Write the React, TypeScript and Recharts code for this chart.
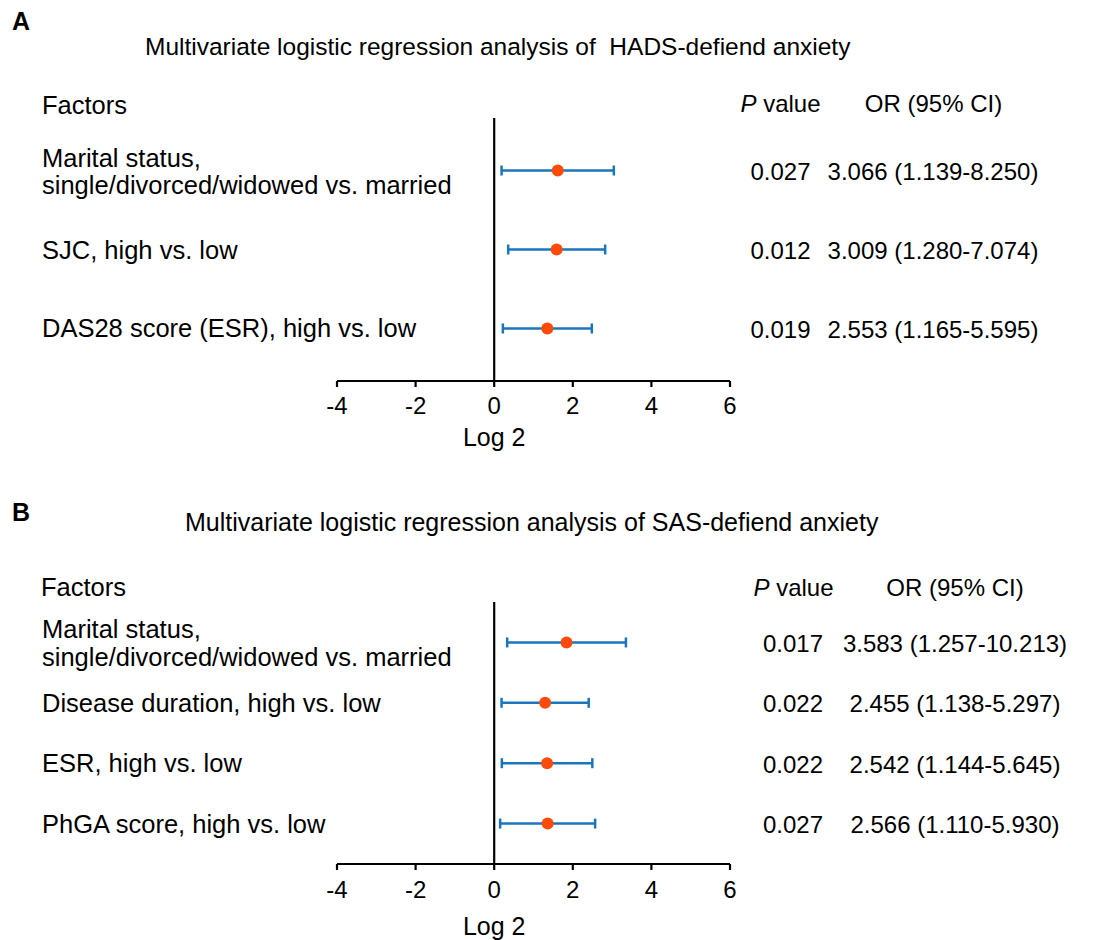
import React from "react";
import { ScatterChart, Scatter, XAxis, YAxis, ErrorBar, ReferenceLine } from "recharts";

const FONT = '"Liberation Sans", Arial, Helvetica, sans-serif';
const BLUE = "#1b75bc";
const ORANGE = "#ff4b0a";

const xTicks = [-4, -2, 0, 2, 4, 6];

// Panel A: HADS-defined anxiety
const factorsA = [
  ["Marital status,", "single/divorced/widowed vs. married"],
  ["SJC, high vs. low"],
  ["DAS28 score (ESR), high vs. low"],
];
const pValuesA = ["0.027", "0.012", "0.019"];
const orTextA = ["3.066 (1.139-8.250)", "3.009 (1.280-7.074)", "2.553 (1.165-5.595)"];
const log2OrA = [1.617, 1.589, 1.352];
const log2LowA = [0.188, 0.356, 0.22];
const log2HighA = [3.044, 2.823, 2.484];

// Panel B: SAS-defined anxiety
const factorsB = [
  ["Marital status,", "single/divorced/widowed vs. married"],
  ["Disease duration, high vs. low"],
  ["ESR, high vs. low"],
  ["PhGA score, high vs. low"],
];
const pValuesB = ["0.017", "0.022", "0.022", "0.027"];
const orTextB = [
  "3.583 (1.257-10.213)",
  "2.455 (1.138-5.297)",
  "2.542 (1.144-5.645)",
  "2.566 (1.110-5.930)",
];
const log2OrB = [1.841, 1.296, 1.346, 1.36];
const log2LowB = [0.33, 0.187, 0.194, 0.151];
const log2HighB = [3.352, 2.405, 2.497, 2.568];

type PanelProps = {
  top: number;
  factors: string[][];
  pValues: string[];
  orText: string[];
  or: number[];
  low: number[];
  high: number[];
  marginTop: number;
  marginBottom: number;
  axisHeight: number;
  labelBaseline: number;
  tickMargin: number;
  pX: number;
  orX: number;
};

function ForestPanel(p: PanelProps) {
  const n = p.factors.length;
  const data = p.or.map((v, i) => ({
    row: i + 1,
    or: v,
    err: [v - p.low[i], p.high[i] - v],
  }));
  const rowTicks = data.map((d) => d.row);

  const RowTick = (props: any) => {
    const { y, payload } = props;
    const i = Math.round(payload.value) - 1;
    const lines = p.factors[i] || [];
    return (
      <g fontFamily={FONT} fill="#000">
        {lines.length > 1 ? (
          <text x={42} fontSize={25.5} fill="#000">
            <tspan x={42} y={y - 13 + 9}>{lines[0]}</tspan>
            <tspan x={42} y={y + 14.7 + 9}>{lines[1]}</tspan>
          </text>
        ) : (
          <text x={42} y={y + 9} fontSize={25.5} fill="#000">
            {lines[0]}
          </text>
        )}
        <text x={p.pX} y={y + 9.5} fontSize={24} textAnchor="middle" fill="#000">
          {p.pValues[i]}
        </text>
        <text x={p.orX} y={y + 9.5} fontSize={24} textAnchor="middle" fill="#000">
          {p.orText[i]}
        </text>
      </g>
    );
  };

  // "Log 2" sits under the zero line (0 is 40% along the -4..6 axis)
  const AxisTitle = (props: any) => {
    const vb = props.viewBox || {};
    const cx = vb.x + vb.width * 0.4;
    return (
      <text
        x={cx}
        y={vb.y + p.labelBaseline}
        textAnchor="middle"
        fontSize={25}
        fontFamily={FONT}
        fill="#000"
      >
        Log 2
      </text>
    );
  };

  return (
    <div style={{ position: "absolute", left: 0, top: p.top }}>
      <ScatterChart
        width={1098}
        height={470}
        margin={{ top: p.marginTop, right: 368, bottom: p.marginBottom, left: 0 }}
      >
        <XAxis
          type="number"
          dataKey="or"
          domain={[-4, 6]}
          ticks={xTicks}
          height={p.axisHeight}
          axisLine={{ stroke: "#000", strokeWidth: 2.2 }}
          tickLine={{ stroke: "#000", strokeWidth: 2.2 }}
          tickSize={6}
          tickMargin={p.tickMargin}
          tick={{ fill: "#000", fontSize: 24, fontFamily: FONT }}
          label={<AxisTitle />}
        />
        <YAxis
          type="number"
          dataKey="row"
          domain={[0.335 - (n - 3) * 0.005, n + 0.665 + (n - 3) * 0.005]}
          reversed
          ticks={rowTicks}
          width={337}
          axisLine={false}
          tickLine={false}
          tick={RowTick}
        />
        <ReferenceLine x={0} stroke="#000" strokeWidth={2.2} />
        <Scatter
          data={data}
          isAnimationActive={false}
          shape={(s: any) => <circle cx={s.cx} cy={s.cy} r={6} fill={ORANGE} />}
        >
          <ErrorBar
            dataKey="err"
            direction="x"
            width={5}
            strokeWidth={2.5}
            stroke={BLUE}
            isAnimationActive={false}
          />
        </Scatter>
      </ScatterChart>
    </div>
  );
}

// baseline for a text whose cap-height centre is given
const bl = (centre: number, size: number) => centre + size * 0.358;

export default function App() {
  return (
    <div
      style={{
        position: "absolute",
        left: 0,
        top: 0,
        width: 1098,
        height: 940,
        background: "#fff",
        fontFamily: FONT,
      }}
    >
      <ForestPanel
        top={0}
        factors={factorsA}
        pValues={pValuesA}
        orText={orTextA}
        or={log2OrA}
        low={log2LowA}
        high={log2HighA}
        marginTop={118}
        marginBottom={9}
        axisHeight={80}
        labelBaseline={65}
        tickMargin={10}
        pX={780.5}
        orX={933}
      />
      <ForestPanel
        top={470}
        factors={factorsB}
        pValues={pValuesB}
        orText={orTextB}
        or={log2OrB}
        low={log2LowB}
        high={log2HighB}
        marginTop={132}
        marginBottom={4}
        axisHeight={72}
        labelBaseline={71}
        tickMargin={11}
        pX={793}
        orX={955}
      />
      <svg
        width={1098}
        height={940}
        style={{ position: "absolute", left: 0, top: 0, pointerEvents: "none" }}
        fontFamily={FONT}
        fill="#000"
      >
        <text x={12} y={bl(21, 25)} fontSize={25} fontWeight="bold">A</text>
        <text x={145} y={bl(46, 24.5)} fontSize={24.5} style={{ whiteSpace: "pre" }}>
          Multivariate logistic regression analysis of {"\u00a0"}HADS-defiend anxiety
        </text>
        <text x={42} y={bl(105, 25.5)} fontSize={25.5}>Factors</text>
        <text x={780.5} y={bl(103, 24)} fontSize={24} textAnchor="middle">
          <tspan fontStyle="italic">P</tspan> value
        </text>
        <text x={933.5} y={bl(103, 24)} fontSize={24} textAnchor="middle">OR (95% CI)</text>

        <text x={12} y={bl(512, 25)} fontSize={25} fontWeight="bold">B</text>
        <text x={185} y={bl(522, 25)} fontSize={25}>
          Multivariate logistic regression analysis of SAS-defiend anxiety
        </text>
        <text x={41} y={bl(587, 25.5)} fontSize={25.5}>Factors</text>
        <text x={793.5} y={bl(587, 24)} fontSize={24} textAnchor="middle">
          <tspan fontStyle="italic">P</tspan> value
        </text>
        <text x={955} y={bl(587, 24)} fontSize={24} textAnchor="middle">OR (95% CI)</text>
      </svg>
    </div>
  );
}
